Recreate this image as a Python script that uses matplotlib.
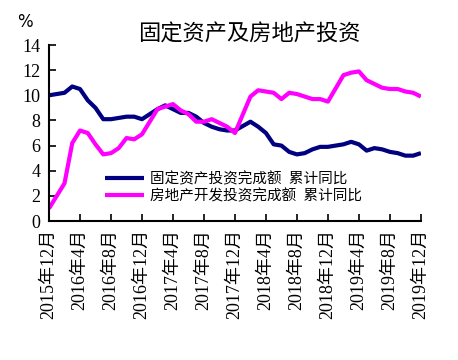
import matplotlib.pyplot as plt
import numpy as np

plt.rcParams['font.family'] = ['Liberation Serif', 'Noto Sans CJK SC']

# 月份: 2015年12月 ... 2019年12月 (1月无数据)
months = []
for y in range(2015, 2020):
    for m in range(1, 13):
        if (y == 2015 and m < 12):
            continue
        months.append((y, m))

# 固定资产投资完成额 累计同比 (%), 每年 2-12 月
fai = {
    (2015, 12): 10.0,
    2016: [10.2, 10.7, 10.5, 9.6, 9.0, 8.1, 8.1, 8.2, 8.3, 8.3, 8.1],
    2017: [8.9, 9.2, 8.9, 8.6, 8.6, 8.3, 7.8, 7.5, 7.3, 7.2, 7.2],
    2018: [7.9, 7.5, 7.0, 6.1, 6.0, 5.5, 5.3, 5.4, 5.7, 5.9, 5.9],
    2019: [6.1, 6.3, 6.1, 5.6, 5.8, 5.7, 5.5, 5.4, 5.2, 5.2, 5.4],
}
# 房地产开发投资完成额 累计同比 (%)
rei = {
    (2015, 12): 1.0,
    2016: [3.0, 6.2, 7.2, 7.0, 6.1, 5.3, 5.4, 5.8, 6.6, 6.5, 6.9],
    2017: [8.9, 9.1, 9.3, 8.8, 8.5, 7.9, 7.9, 8.1, 7.8, 7.5, 7.0],
    2018: [9.9, 10.4, 10.3, 10.2, 9.7, 10.2, 10.1, 9.9, 9.7, 9.7, 9.5],
    2019: [11.6, 11.8, 11.9, 11.2, 10.9, 10.6, 10.5, 10.5, 10.3, 10.2, 9.9],
}


def series(d):
    xs, ys = [], []
    for i, (y, m) in enumerate(months):
        if (y, m) in d:
            xs.append(i)
            ys.append(d[(y, m)])
        elif y in d and m >= 2:
            xs.append(i)
            ys.append(d[y][m - 2])
    return xs, ys


labels = ['%d年%d月' % months[i] for i in range(0, len(months), 4)]

fig = plt.figure(figsize=(4.58, 3.6), dpi=100)
ax = fig.add_axes([0.107, 0.386, 0.812, 0.489])

x1, y1 = series(fai)
x2, y2 = series(rei)
ax.plot(x1, y1, color='#000080', lw=3.0, label='固定资产投资完成额  累计同比', solid_capstyle='butt')
ax.plot(x2, y2, color='#FF00FF', lw=3.0, label='房地产开发投资完成额  累计同比', solid_capstyle='butt')

ax.set_xlim(0, 48)
ax.set_ylim(0, 14)
ax.set_yticks(range(0, 15, 2))
ax.set_xticks(range(0, 49, 4))
ax.set_xticklabels(labels, rotation=90, fontsize=13)
ax.tick_params(axis='y', direction='in', labelsize=13, length=5, width=1.2, pad=6)
ax.tick_params(axis='x', direction='in', length=5, width=1.2, pad=6)
for s in ['top', 'right']:
    ax.spines[s].set_visible(False)
ax.spines['left'].set_linewidth(1.5)
ax.spines['bottom'].set_linewidth(1.5)

leg = ax.legend(loc='lower left', bbox_to_anchor=(0.13, 0.06), frameon=False,
                fontsize=10.5, handlelength=2.7, labelspacing=0.15,
                handletextpad=0.4, borderpad=0)

fig.text(0.545, 0.905, '固定资产及房地产投资', ha='center', va='center', fontsize=16,
         family=['Noto Sans CJK SC'])
fig.text(0.055, 0.94, '%', ha='center', va='center', fontsize=12, family=['DejaVu Sans'])

fig.savefig('out.png', dpi=100)
